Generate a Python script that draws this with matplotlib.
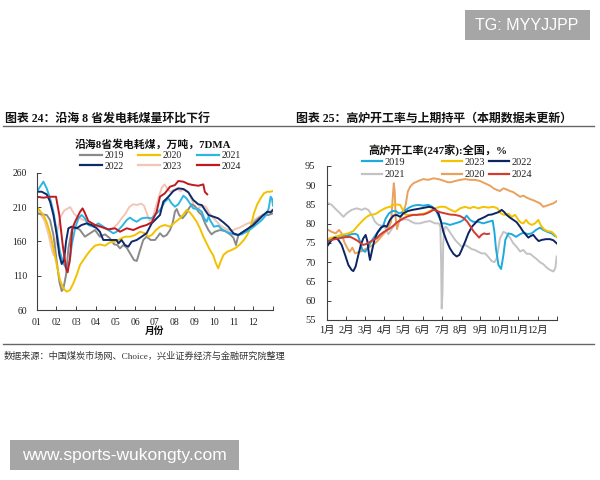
import matplotlib
matplotlib.use("Agg")
import matplotlib.pyplot as plt
from matplotlib.lines import Line2D
from matplotlib.legend import Legend
from matplotlib.patches import Rectangle

plt.rcParams['font.family'] = ['Liberation Serif', 'Noto Sans CJK SC']
plt.rcParams['axes.unicode_minus'] = False

W, H = 600, 480

# ---------------- Left chart data: 沿海8省发电耗煤 (万吨, 7DMA) ----------------
# (month position, value)
L2019 = [(1.0,200.8),(1.25,199.3),(1.51,198.4),(1.68,191),(1.85,169.2),(2.02,130.4),(2.15,101.3),
         (2.27,87.7),(2.35,90.6),(2.49,111),(2.61,149.8),(2.78,176.5),(2.95,181.4),(3.2,176.5),
         (3.45,166.8),(3.71,171.7),(3.96,176.5),(4.21,166.8),(4.47,170.2),(4.72,164.4),(4.93,155.6),
         (5.09,154.7),(5.23,149.8),(5.4,154.7),(5.57,150.8),(5.74,142.5),(5.94,132.8),(6.08,131.4),
         (6.25,147.4),(6.41,162),(6.58,166.8),(6.79,162),(7.01,162),(7.18,168.3),(7.26,171.7),
         (7.43,166.8),(7.6,169.2),(7.77,176.5),(7.9,186.2),(8.02,203.2),(8.11,207.1),(8.23,198.4),
         (8.4,193.5),(8.57,199.3),(8.73,208),(8.87,214),(9.04,211),(9.21,203.2),(9.38,198.4),
         (9.55,186.2),(9.72,176.5),(9.88,170.2),(10.05,174),(10.31,176.5),(10.56,175),(10.82,170.2),
         (10.99,165.3),(11.12,154.7),(11.24,169.2),(11.49,174),(11.75,178),(12.0,186.2),(12.26,193.5),
         (12.51,198.4),(12.77,198.4),(13.0,200.8)]
L2020 = [(1.0,210.5),(1.17,204.2),(1.34,198.4),(1.51,187.7),(1.68,171.7),(1.85,149.8),(2.02,125.5),
         (2.18,103.7),(2.35,91.6),(2.52,86.7),(2.69,89.1),(2.86,98.8),(3.03,111),(3.2,125.5),
         (3.37,132.8),(3.54,140),(3.74,147.4),(3.96,153.7),(4.21,155.6),(4.47,153.7),(4.72,158.6),
         (4.98,159.5),(5.23,163.4),(5.48,166.8),(5.74,166.8),(5.99,169.2),(6.25,174),(6.5,171.7),
         (6.67,166.8),(6.84,169.2),(7.06,176.5),(7.26,181.4),(7.51,183.8),(7.77,181.4),(8.02,187.7),
         (8.28,193.5),(8.45,199.3),(8.61,205.6),(8.78,202.2),(8.95,195.9),(9.12,188.6),(9.29,179),
         (9.46,166.8),(9.63,157.1),(9.8,147.4),(9.97,139.1),(10.1,128),(10.22,120.7),(10.34,130.4),
         (10.48,140),(10.68,145),(10.9,147.4),(11.12,150.8),(11.32,155.6),(11.52,162),(11.69,169.2),
         (11.86,180),(12.03,200.8),(12.2,213.9),(12.37,222.6),(12.54,230),(12.71,232.3),(12.88,232.3),
         (13.0,233.3)]
L2021 = [(1.0,232),(1.17,239.6),(1.34,247),(1.51,237),(1.68,222.6),(1.85,203),(2.02,174),(2.18,145),
         (2.35,128),(2.52,120),(2.66,128),(2.78,154.7),(2.95,179),(3.12,193.5),(3.28,198.4),
         (3.45,193.5),(3.62,183.8),(3.88,181.4),(4.13,186.2),(4.38,181.4),(4.64,176.5),(4.89,171.7),
         (5.06,174),(5.31,181.4),(5.57,191),(5.74,194.5),(5.91,191),(6.08,188.6),(6.33,193.5),
         (6.58,194.5),(6.84,193.5),(7.09,200.8),(7.26,205.6),(7.51,217.8),(7.69,222.6),(7.85,215.3),
         (8.02,210.5),(8.19,213.9),(8.45,226.5),(8.61,222.6),(8.78,215.3),(8.95,208),(9.21,207),
         (9.38,203.2),(9.51,193.5),(9.63,188.6),(9.73,196),(9.83,189.6),(10.0,181.4),(10.22,182.8),
         (10.39,178),(10.64,174),(10.9,171.2),(11.15,169.2),(11.41,170.2),(11.66,174),(11.92,179),
         (12.17,184.8),(12.43,191),(12.65,198.4),(12.78,208),(12.88,225),(12.95,222),(13.0,212)]
L2022 = [(1.0,232.3),(1.25,232.3),(1.51,228.4),(1.68,217.8),(1.85,198.3),(2.02,169.2),(2.15,140),
         (2.27,127),(2.39,132.8),(2.49,159.5),(2.61,179),(2.78,181.4),(3.03,179),(3.28,183.8),
         (3.54,186.2),(3.79,183.8),(4.05,179),(4.21,174),(4.38,162),(4.72,162),(5.06,162),(5.15,157),
         (5.31,162),(5.48,154.7),(5.65,152.2),(5.82,159.5),(6.08,162),(6.33,166.8),(6.58,171.7),
         (6.84,186.2),(7.09,193.5),(7.26,198.4),(7.43,217.8),(7.69,225),(7.94,233.3),(8.19,237.2),
         (8.45,236.2),(8.7,231.4),(8.95,220.2),(9.21,213.9),(9.38,212.9),(9.55,205.6),(9.72,198.4),
         (9.97,196),(10.22,193.5),(10.48,187.7),(10.73,181.4),(10.99,171.7),(11.24,169.2),(11.49,174),
         (11.75,179),(12.0,183.8),(12.26,191),(12.51,198.4),(12.71,203.2),(12.88,202.2),(13.0,205.6)]
L2023 = [(1.0,205),(1.2,200),(1.4,190),(1.6,170),(1.75,150),(1.85,140),(1.95,150),(2.05,175),
         (2.2,195),(2.4,205),(2.7,210),(2.9,200),(3.1,195),(3.3,192),(3.5,190),(3.7,188),(3.9,185),
         (4.1,182),(4.3,180),(4.5,178),(4.7,176),(4.9,180),(5.1,185),(5.3,193),(5.5,200),(5.7,210),
         (5.9,214),(6.1,213),(6.3,215),(6.45,212),(6.6,200),(6.75,190),(6.9,195),(7.05,210),(7.2,225),
         (7.35,238),(7.5,243),(7.65,236),(7.8,232),(7.95,235),(8.1,237),(8.3,233),(8.5,236),(8.7,232),
         (8.85,222),(9.0,212),(9.15,208),(9.3,210),(9.45,212),(9.6,210),(9.75,202),(9.9,196),
         (10.1,190),(10.3,184),(10.5,180),(10.7,177),(10.9,175),(11.1,178),(11.3,180),(11.5,183),
         (11.7,186),(11.9,188),(12.1,192),(12.3,196),(12.5,199),(12.7,201),(12.9,205),(13.0,207)]
L2024 = [(1.0,225),(1.34,223.6),(1.68,225),(1.98,225),(2.15,198),(2.32,154.7),(2.49,120.7),
         (2.57,114.9),(2.69,135),(2.81,179),(2.95,188.6),(3.2,203),(3.33,208),(3.42,203),(3.62,189.6),
         (3.96,183.8),(4.3,181),(4.64,177.5),(4.98,179),(5.23,174),(5.57,179),(5.91,176.5),(6.25,181),
         (6.58,183.8),(6.84,187.7),(7.09,203),(7.26,225),(7.51,230),(7.77,239.6),(8.02,242),
         (8.19,247.9),(8.45,246.9),(8.7,243.5),(8.95,242),(9.21,241),(9.46,243),(9.54,232),(9.66,228.5)]

L_SERIES = [("2023", L2023, "#F2C6B6"), ("2019", L2019, "#8A8A8A"), ("2020", L2020, "#F2C100"),
            ("2021", L2021, "#2DB6E4"), ("2022", L2022, "#10296B"), ("2024", L2024, "#BE1A22")]
L_LEGEND_COLS = [["2019", "2022"], ["2020", "2023"], ["2021", "2024"]]
L_MONTH_LABELS = ["01","02","03","04","05","06","07","08","09","10","11","12"]
L_YTICKS = [60, 110, 160, 210, 260]

# ---------------- Right chart data: 高炉开工率(247家):全国, % ----------------
R2019 = [(1.0,74.9),(1.35,76.2),(1.7,76.9),(2.04,76.9),(2.3,77.3),(2.48,77.4),(2.62,77.1),(2.74,75.3),
         (2.86,73.2),(3.0,72.7),(3.14,73.6),(3.26,74.9),(3.43,76.2),(3.61,77.5),(3.78,78.4),(3.96,79.7),
         (4.08,81.4),(4.25,82.7),(4.43,83.3),(4.6,83.3),(4.77,82.7),(4.95,83),(5.12,83.6),(5.3,84.2),
         (5.52,84.7),(5.78,84.9),(6.04,84.7),(6.3,84.9),(6.51,84.4),(6.69,83.6),(6.86,81.8),(7.0,80.1),
         (7.17,80.1),(7.43,79.7),(7.7,80.1),(7.96,80.5),(8.13,81),(8.3,82.1),(8.48,81),(8.65,80.5),
         (8.91,80.5),(9.17,80.1),(9.43,80.5),(9.66,80.8),(9.75,77.9),(9.83,73.6),(9.96,69.3),
         (10.1,68.25),(10.22,71.9),(10.32,75.8),(10.48,77.5),(10.65,77.3),(10.88,76.6),(11.09,77.3),
         (11.3,77.7),(11.47,77.3),(11.7,77.5),(11.92,78.4),(12.13,79),(12.3,78.4),(12.51,77.9),
         (12.74,77.5),(12.91,76.8)]
R2023 = [(1.0,76.0),(1.43,76.6),(1.78,77.1),(2.13,77.5),(2.39,78.1),(2.57,79.2),(2.74,80.1),(2.91,81),
         (3.09,81.8),(3.26,82.3),(3.43,82.4),(3.61,82.7),(3.78,83.3),(3.96,83.8),(4.13,84.2),(4.3,84.4),
         (4.48,84.9),(4.65,85),(4.83,84.9),(4.95,83.8),(5.09,82.4),(5.35,82.3),(5.61,82.3),(5.87,82.4),
         (6.13,82.7),(6.39,83.3),(6.65,84),(6.91,84.4),(7.17,84.4),(7.43,83.7),(7.7,83.1),(7.96,84),
         (8.22,84.4),(8.48,84),(8.65,84.4),(8.91,84),(9.17,84.4),(9.43,84.2),(9.7,84.4),(9.91,84),
         (10.08,82.7),(10.26,82.3),(10.48,82.6),(10.65,81.8),(10.83,82.3),(11.0,81),(11.13,80.3),
         (11.26,80.1),(11.4,81),(11.54,80.1),(11.7,79.7),(11.87,80.1),(12.04,81),(12.16,79.7),
         (12.33,78.6),(12.51,78.1),(12.74,77.9),(12.91,77.1),(13.0,76.5)]
R2022 = [(1.0,74.0),(1.26,75.8),(1.43,76.4),(1.61,75.8),(1.78,74.5),(1.96,71.9),(2.13,69.3),(2.3,68),
         (2.39,67.7),(2.51,68.9),(2.65,71.9),(2.79,74.7),(2.91,76.2),(3.03,77.1),(3.12,75.5),(3.21,71.9),
         (3.26,70.6),(3.35,72.7),(3.49,75.8),(3.66,77.8),(3.83,79),(4.01,79.5),(4.13,79.2),(4.3,81),
         (4.48,82.1),(4.65,82.3),(4.83,81.8),(5.0,82.7),(5.23,83.3),(5.47,83.6),(5.7,83.8),(5.92,84),
         (6.13,84.2),(6.34,84.4),(6.51,84.2),(6.65,83.8),(6.83,82.7),(6.95,80.8),(7.09,77.8),(7.26,75.5),
         (7.43,73.6),(7.61,72.2),(7.78,71.5),(7.92,71.9),(8.04,73.2),(8.22,75.3),(8.39,77.5),(8.57,79.2),
         (8.74,80.1),(8.91,81),(9.09,81.4),(9.26,81.8),(9.43,82.3),(9.61,82.4),(9.78,82.7),(9.96,83),
         (10.13,83.6),(10.25,83.1),(10.39,82.3),(10.56,81.6),(10.74,81),(10.91,80.4),(11.09,79.2),
         (11.26,77.9),(11.4,77.1),(11.52,76.4),(11.64,76.8),(11.78,77.1),(11.92,76.2),(12.06,75.5),
         (12.22,75.8),(12.44,76),(12.65,76),(12.83,75.7),(13.0,74.9)]
R2021 = [(1.0,85.5),(1.26,84.9),(1.43,84),(1.7,82.7),(1.87,81.8),(2.04,82.7),(2.3,83.6),(2.57,84),
         (2.83,83.6),(3.0,84),(3.17,83.6),(3.35,82.3),(3.52,80.5),(3.7,79.7),(3.87,79.5),(4.04,79),
         (4.22,77.3),(4.39,78.6),(4.57,79.8),(4.74,80.5),(4.91,81),(5.09,81.2),(5.26,81),(5.43,80.5),
         (5.61,80.1),(5.87,80.1),(6.13,80.5),(6.39,80.7),(6.65,80.1),(6.85,80.1),(6.93,79.2),(6.97,70),
         (7.0,58),(7.04,62),(7.08,75),(7.15,79),(7.23,79.2),(7.35,78.4),(7.52,77.1),(7.7,75.8),
         (7.87,74.9),(8.04,74),(8.22,74.5),(8.39,74),(8.57,73.4),(8.74,73.2),(8.91,72.7),(9.09,72.3),
         (9.26,72.3),(9.43,71.4),(9.61,70.3),(9.75,70),(9.87,71),(10.04,76.2),(10.22,77.9),(10.39,77.5),
         (10.56,76.4),(10.74,74.9),(10.91,74),(11.09,72.8),(11.26,73.2),(11.43,72.2),(11.61,72.2),
         (11.78,71.5),(11.96,70.8),(12.13,70),(12.3,69.5),(12.48,68.6),(12.65,68),(12.83,67.6),
         (12.93,68.5),(13.0,71.5)]
R2020 = [(1.0,78.6),(1.26,77.9),(1.47,77.5),(1.64,78.4),(1.78,77.5),(1.92,75.2),(2.06,73.8),(2.2,72.7),
         (2.34,73.8),(2.48,72.3),(2.65,72.6),(2.83,72.9),(3.0,73.4),(3.17,73.8),(3.35,74.3),(3.52,74.9),
         (3.7,75.8),(3.87,76.8),(4.04,77.8),(4.22,79),(4.36,80.5),(4.43,85.7),(4.5,90.5),(4.55,88.3),
         (4.6,81.4),(4.67,78.6),(4.77,80.5),(4.88,81.8),(5.0,83.1),(5.12,84.9),(5.23,88.3),(5.35,89.6),
         (5.52,90.5),(5.78,91.1),(6.04,91.6),(6.3,91.4),(6.57,91.8),(6.83,91.6),(7.09,91.2),(7.3,90.8),
         (7.5,90.8),(7.7,91.1),(7.96,91.4),(8.22,91.6),(8.48,91.4),(8.74,91.4),(9.0,91.1),(9.26,90.5),
         (9.52,89.9),(9.7,89.2),(9.87,88.8),(10.04,88.5),(10.22,89.2),(10.39,88.9),(10.56,88.5),
         (10.74,88.2),(10.91,87.6),(11.09,87),(11.26,87.3),(11.43,86.8),(11.61,86.4),(11.78,86.1),
         (11.96,85.7),(12.13,85.3),(12.3,84.4),(12.48,84.7),(12.65,85),(12.83,85.3),(13.0,85.9)]
R2024 = [(1.0,75.5),(1.26,75.8),(1.61,76.2),(1.96,76.5),(2.22,76.6),(2.39,76.2),(2.57,75.7),(2.74,75.1),
         (2.91,74.5),(3.09,74.8),(3.26,75.3),(3.43,75.8),(3.61,76.2),(3.78,77.1),(3.96,77.8),(4.13,78.3),
         (4.3,78.8),(4.48,79.5),(4.65,80.3),(4.83,80.9),(5.0,81.4),(5.17,81.8),(5.35,82.1),(5.52,82.3),
         (5.7,82.3),(5.87,82.4),(6.04,82.4),(6.22,82.7),(6.39,83.1),(6.57,83.6),(6.74,83.4),(6.91,83),
         (7.17,82.7),(7.43,82.4),(7.7,82.3),(7.96,82),(8.17,81.4),(8.34,80.5),(8.51,79.2),(8.68,77.9),
         (8.83,77.1),(8.95,76.4),(9.07,77.1),(9.21,77.5),(9.35,77.3),(9.47,77.4)]

R_SERIES = [("2021", R2021, "#C3C3C3"), ("2020", R2020, "#E9A25E"), ("2019", R2019, "#1DAADE"),
            ("2023", R2023, "#F3C300"), ("2022", R2022, "#0C2462"), ("2024", R2024, "#D33A30")]
R_LEGEND_COLS = [["2019", "2021"], ["2023", "2020"], ["2022", "2024"]]
R_MONTH_LABELS = ["1月","2月","3月","4月","5月","6月","7月","8月","9月","10月","11月","12月"]
R_YTICKS = [55, 60, 65, 70, 75, 80, 85, 90, 95]

HEADER_L = "图表 24：沿海 8 省发电耗煤量环比下行"
HEADER_R = "图表 25：高炉开工率与上期持平（本期数据未更新）"
TITLE_L = "沿海8省发电耗煤，万吨，7DMA"
TITLE_R = "高炉开工率(247家):全国，%"
XLABEL_L = "月份"
SOURCE = "数据来源：中国煤炭市场网、Choice，兴业证券经济与金融研究院整理"
WM_TOP = "TG: MYYJJPP"
WM_BOTTOM = "www.sports-wukongty.com"

fig = plt.figure(figsize=(6, 4.8), dpi=100)
fig.patch.set_facecolor("white")

def fx(px):
    return px / W

def fy(py):
    return 1 - py / H

def axes_px(x0, y0, x1, y1):
    return fig.add_axes([fx(x0), fy(y1), (x1 - x0) / W, (y1 - y0) / H])

def style_axes(ax, fs):
    for s in ("top", "right"):
        ax.spines[s].set_visible(False)
    for s in ("left", "bottom"):
        ax.spines[s].set_color("#404040")
        ax.spines[s].set_linewidth(0.8)
    ax.tick_params(direction="in", length=3, width=0.7, color="#404040",
                   labelsize=fs, labelcolor="#222222")
    ax.set_facecolor("none")

def col_legends(ax, series, cols, xs, ytop, fs, hl, ls, lw):
    cmap = {name: c for name, _, c in series}
    for col, x in zip(cols, xs):
        handles = [Line2D([], [], color=cmap[n], lw=lw) for n in col]
        leg = Legend(ax, handles, col, loc="upper left",
                     bbox_to_anchor=(fx(x), fy(ytop)), bbox_transform=fig.transFigure,
                     frameon=False, prop={"family": "Liberation Serif", "size": fs},
                     handlelength=hl, handletextpad=0.2, borderpad=0, borderaxespad=0,
                     labelspacing=ls)
        for t in leg.get_texts():
            t.set_color("#222222")
        ax.add_artist(leg)

LW = 1.4

# ---------------- left chart ----------------
axL = axes_px(36.7, 172.7, 273, 310)
for name, pts, c in L_SERIES:
    xs = [p[0] for p in pts]
    ys = [p[1] for p in pts]
    axL.plot(xs, ys, color=c, lw=LW, solid_joinstyle="round")
axL.set_xlim(1, 13)
axL.set_ylim(60, 260)
axL.set_yticks(L_YTICKS)
axL.set_xticks(list(range(1, 14)))
axL.set_xticklabels(L_MONTH_LABELS + [""])
style_axes(axL, 7)
axL.tick_params(axis="y", pad=7)
axL.tick_params(axis="x", pad=6)
col_legends(axL, L_SERIES, L_LEGEND_COLS, [80, 138, 197], 151.5, 7, 2.3, 0.12, 1.6)

# ---------------- right chart ----------------
axR = axes_px(326.7, 166, 556.7, 320)
for name, pts, c in R_SERIES:
    xs = [p[0] for p in pts]
    ys = [p[1] for p in pts]
    axR.plot(xs, ys, color=c, lw=LW, solid_joinstyle="round")
axR.set_xlim(1, 13)
axR.set_ylim(55, 95)
axR.set_yticks(R_YTICKS)
axR.set_xticks(list(range(1, 14)))
axR.set_xticklabels(R_MONTH_LABELS + [""])
style_axes(axR, 7.5)
axR.tick_params(axis="y", pad=8)
axR.tick_params(axis="x", pad=4)
col_legends(axR, R_SERIES, R_LEGEND_COLS, [361.7, 441.7, 489], 157.5, 7.5, 1.95, 0.3, 1.6)

# ---------------- text / decorations ----------------
fig.text(fx(5), fy(119), HEADER_L, fontsize=8.6, fontweight="bold", va="center", ha="left",
         color="#111111")
fig.text(fx(296), fy(119), HEADER_R, fontsize=8.6, fontweight="bold", va="center", ha="left",
         color="#111111")
fig.add_artist(Line2D([fx(3), fx(594)], [fy(126), fy(126)], color="#666666", lw=1.0,
                      transform=fig.transFigure))
fig.text(fx(152.5), fy(144), TITLE_L, fontsize=7.8, fontweight="bold", ha="center", va="center",
         color="#111111")
fig.text(fx(437.5), fy(151), TITLE_R, fontsize=8, fontweight="bold", ha="center", va="center",
         color="#111111")
fig.text(fx(155), fy(331), XLABEL_L, fontsize=7, fontweight="bold", ha="center", va="center",
         color="#111111")
fig.add_artist(Line2D([fx(3), fx(594)], [fy(343.5), fy(343.5)], color="#666666", lw=1.0,
                      transform=fig.transFigure))
fig.text(fx(4), fy(356.5), SOURCE, fontsize=6.6, ha="left", va="center", color="#333333")

# watermark boxes
fig.add_artist(Rectangle((fx(465), fy(39.5)), 125 / W, 29.5 / H, transform=fig.transFigure,
                         facecolor="#A6A6A6", edgecolor="none"))
fig.text(fx(527), fy(25), WM_TOP, fontsize=11.5, family="Liberation Sans", color="white",
         ha="center", va="center")
fig.add_artist(Rectangle((fx(10), fy(469.5)), 229 / W, 29.5 / H, transform=fig.transFigure,
                         facecolor="#A6A6A6", edgecolor="none"))
fig.text(fx(124.5), fy(455.5), WM_BOTTOM, fontsize=12.5, family="Liberation Sans", color="white",
         ha="center", va="center")

fig.savefig("out.png", dpi=100, facecolor="white")
